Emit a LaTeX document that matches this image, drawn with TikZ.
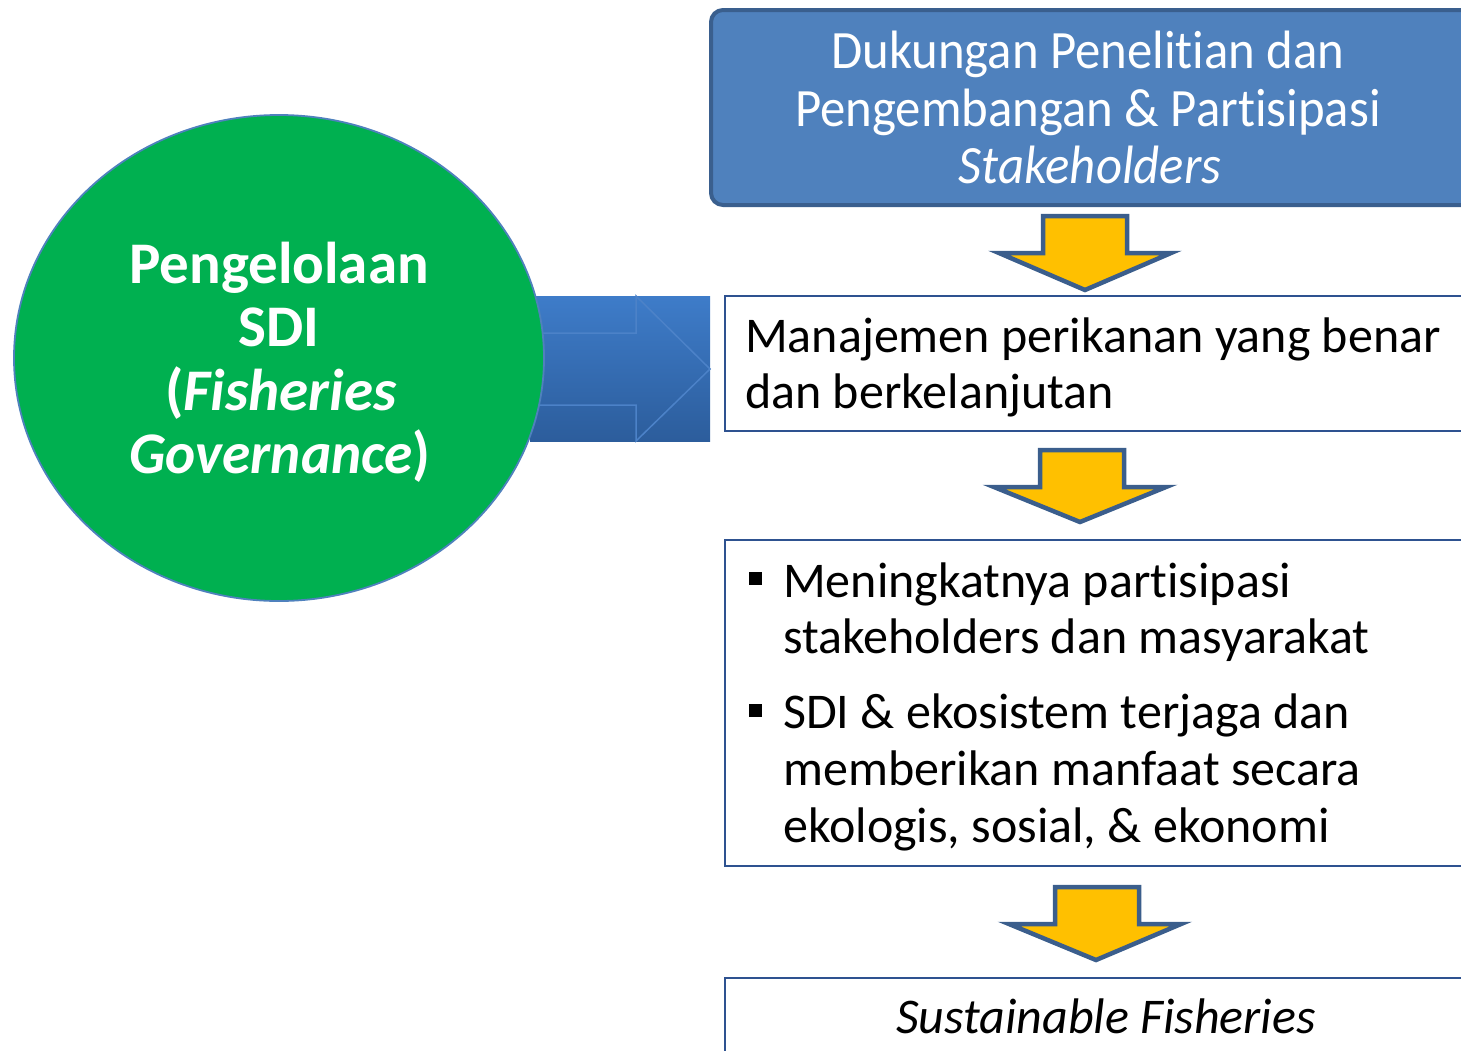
\documentclass[tikz,border=0pt]{standalone}
\usepackage{fontspec}
\setmainfont[Ligatures=NoCommon]{Carlito}
\usetikzlibrary{shapes.geometric}
\definecolor{sdigreen}{HTML}{00B050}
\definecolor{topfill}{HTML}{4F81BD}
\definecolor{topedge}{HTML}{3A5F8E}
\definecolor{boxedge}{HTML}{2E5290}
\definecolor{arrowyellow}{HTML}{FFC000}
\definecolor{arrowedge}{HTML}{3B5E8C}
\definecolor{bluetop}{HTML}{3E7CC9}
\definecolor{bluebot}{HTML}{2C5D9C}
\definecolor{blueline}{HTML}{4C82C8}
\begin{document}
\begin{tikzpicture}[x=1pt,y=-1pt,
  flowbox/.style={draw=boxedge,line width=2.5pt,fill=white},
  downarrow/.style={draw=arrowedge,fill=arrowyellow,line width=4.5pt,line join=miter},
  boxtext/.style={font=\fontsize{50}{60}\selectfont,inner sep=0pt,anchor=base west},
  toptext/.style={font=\fontsize{54}{64}\selectfont,text=white,inner sep=0pt,anchor=base},
  circtext/.style={font=\bfseries\fontsize{59}{68}\selectfont,text=white,inner sep=0pt,anchor=base},
  bulletsq/.style={fill=black,minimum size=13pt,inner sep=0pt}]
\useasboundingbox (0,0) rectangle (1461,1050);
\clip (0,0) rectangle (1461,1050);
% big blue arrow (rendered as its box)
\shade[top color=bluetop,bottom color=bluebot] (530,296) rectangle (710,441);
\draw[blueline,line width=1.5pt] (520,333) -- (636,333) -- (636,296) -- (710,369) -- (636,441) -- (636,405) -- (520,405);
% circle
\node[ellipse,draw=topfill,line width=1.8pt,fill=sdigreen,minimum width=530pt,minimum height=486pt,inner sep=0pt] (sdi) at (279,358) {};
\node[circtext] (c1) at (279,283) {Pengelolaan};
\node[circtext] (c2) at (279,346) {SDI};
\node[circtext] (c3) at (281,410) {(\textit{Fisheries}};
\node[circtext] (c4) at (280,473) {\scalebox{0.97}[1]{\textit{Governance})}};
% top box
\draw[draw=topedge,fill=topfill,line width=4pt,rounded corners=12pt] (711,10) rectangle (1480,205);
\node[toptext] (t1) at (1088,68) {\scalebox{0.94}[1]{Dukungan Penelitian dan}};
\node[toptext] (t2) at (1088,126) {\scalebox{0.94}[1]{Pengembangan \& Partisipasi}};
\node[toptext] (t3) at (1090,183) {\scalebox{0.94}[1]{\textit{Stakeholders}}};
% box 2
\draw[flowbox] (725,296) rectangle (1480,431);
\node[boxtext] (b1) at (745,352) {Manajemen perikanan yang benar};
\node[boxtext] (b2) at (745,408) {dan berkelanjutan};
% box 3
\draw[flowbox] (725,540) rectangle (1480,866);
\node[bulletsq] (q1) at (755,578) {};
\node[boxtext] (m1) at (783,597) {Meningkatnya partisipasi};
\node[boxtext] (m2) at (783,653) {stakeholders dan masyarakat};
\node[bulletsq] (q2) at (755,710) {};
\node[boxtext] (m3) at (783,728) {SDI \& ekosistem terjaga dan};
\node[boxtext] (m4) at (783,785) {memberikan manfaat secara};
\node[boxtext] (m5) at (783,842) {ekologis, sosial, \& ekonomi};
% box 4
\draw[flowbox] (725,978) rectangle (1480,1070);
\node[font=\itshape\fontsize{50}{60}\selectfont,inner sep=0pt,anchor=base] (s1) at (1106,1033) {Sustainable Fisheries};
% yellow arrows
\draw[downarrow] (1043,216) -- (1127,216) -- (1127,253) -- (1171,253) -- (1085,290) -- (999,253) -- (1043,253) -- cycle;
\draw[downarrow] (1040,450) -- (1124,450) -- (1124,487) -- (1166,487) -- (1080,522) -- (994,487) -- (1040,487) -- cycle;
\draw[downarrow] (1055,887) -- (1139,887) -- (1139,924) -- (1181,924) -- (1096,960) -- (1009,924) -- (1055,924) -- cycle;
\end{tikzpicture}
\end{document}
